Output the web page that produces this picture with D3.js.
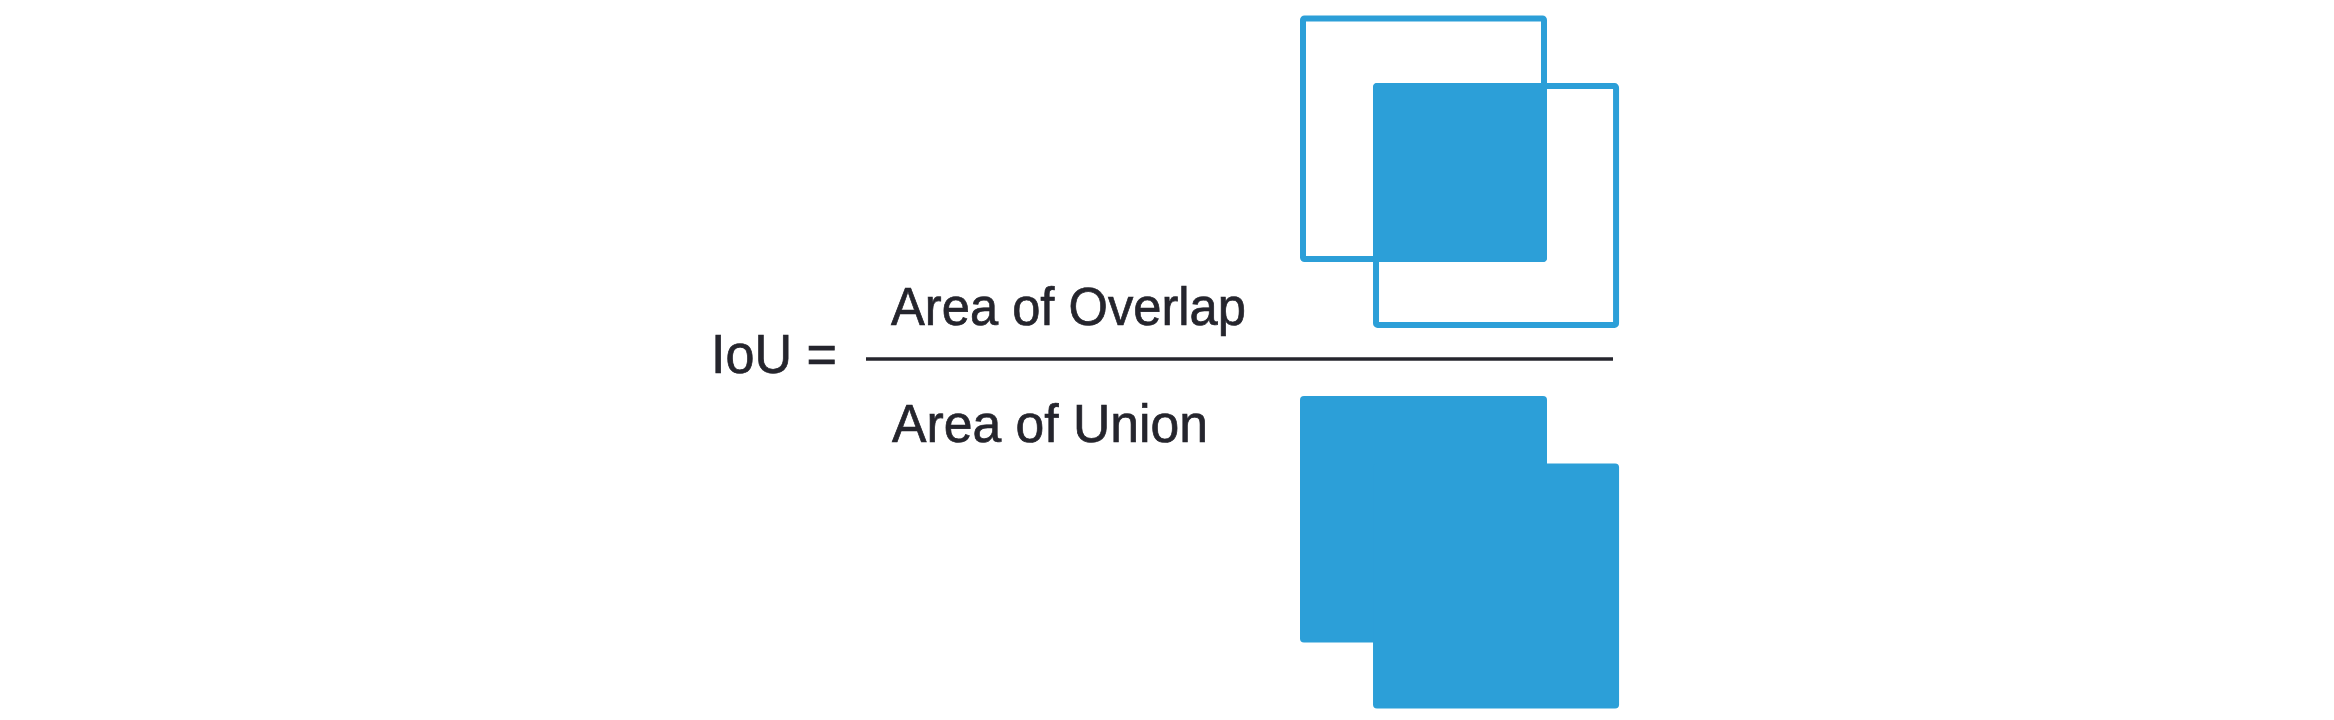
<!DOCTYPE html>
<html>
<head>
<meta charset="utf-8">
<script src="https://cdn.jsdelivr.net/npm/d3@7"></script>
<style>
  body { margin: 0; background: #fff; }
  text { font-family: "Liberation Sans", Arial, sans-serif; fill: #25252d; stroke: #25252d; stroke-width: 0.7px; }
</style>
</head>
<body>
<script>
// boxes in unit coords: [x0, y0, x1, y1]
const boxA = [0, 0, 1, 1];
const boxB = [0.303, 0.281, 1.299, 1.274];
const labels = ['IoU =', 'Area of Overlap', 'Area of Union'];

const [w, h] = [2334, 720];
const blue = '#2c9fd8';
const sw = 6;

const svg = d3.select('body')
    .append('svg')
    .attr('width', w)
    .attr('height', h);

const x = d3.scaleLinear().domain([0, 1]).range([1303, 1544]);
const y = d3.scaleLinear().domain([0, 1]).range([18.5, 259]);
const unionShift = 380.5;

// intersection of the two boxes
const inter = [
    Math.max(boxA[0], boxB[0]), Math.max(boxA[1], boxB[1]),
    Math.min(boxA[2], boxB[2]), Math.min(boxA[3], boxB[3])
];

//overlap picture (top)
const overlapG = svg.append('g');
overlapG.selectAll('rect.outline')
    .data([boxA, boxB])
    .join('rect')
    .attr('class', 'outline')
    .attr('x', d => x(d[0]))
    .attr('y', d => y(d[1]))
    .attr('width', d => x(d[2]) - x(d[0]))
    .attr('height', d => y(d[3]) - y(d[1]))
    .attr('rx', 1.5)
    .attr('fill', 'none')
    .attr('stroke', blue)
    .attr('stroke-width', sw);

overlapG.append('rect')
    .attr('x', x(inter[0]) - sw / 2)
    .attr('y', y(inter[1]) - sw / 2)
    .attr('width', x(inter[2]) - x(inter[0]) + sw)
    .attr('height', y(inter[3]) - y(inter[1]) + sw)
    .attr('rx', 4)
    .attr('fill', blue);

//union picture (bottom)
const unionG = svg.append('g')
    .attr('transform', `translate(0, ${unionShift})`);
unionG.selectAll('rect')
    .data([boxA, boxB])
    .join('rect')
    .attr('x', d => x(d[0]) - sw / 2)
    .attr('y', d => y(d[1]) - sw / 2)
    .attr('width', d => x(d[2]) - x(d[0]) + sw)
    .attr('height', d => y(d[3]) - y(d[1]) + sw)
    .attr('rx', 4)
    .attr('fill', blue);

//fraction bar
svg.append('line')
    .attr('x1', 866)
    .attr('x2', 1613)
    .attr('y1', 359)
    .attr('y2', 359)
    .attr('stroke', '#25252d')
    .attr('stroke-width', 3.5);

//texts
svg.append('text')
    .attr('x', 711)
    .attr('y', 373)
    .attr('font-size', '55px')
    .attr('textLength', 126)
    .attr('lengthAdjust', 'spacingAndGlyphs')
    .text(labels[0]);

svg.append('text')
    .attr('x', 891)
    .attr('y', 325)
    .attr('font-size', '53px')
    .attr('textLength', 355)
    .attr('lengthAdjust', 'spacingAndGlyphs')
    .text(labels[1]);

svg.append('text')
    .attr('x', 892)
    .attr('y', 442)
    .attr('font-size', '54px')
    .attr('textLength', 316)
    .attr('lengthAdjust', 'spacingAndGlyphs')
    .text(labels[2]);
</script>
</body>
</html>
